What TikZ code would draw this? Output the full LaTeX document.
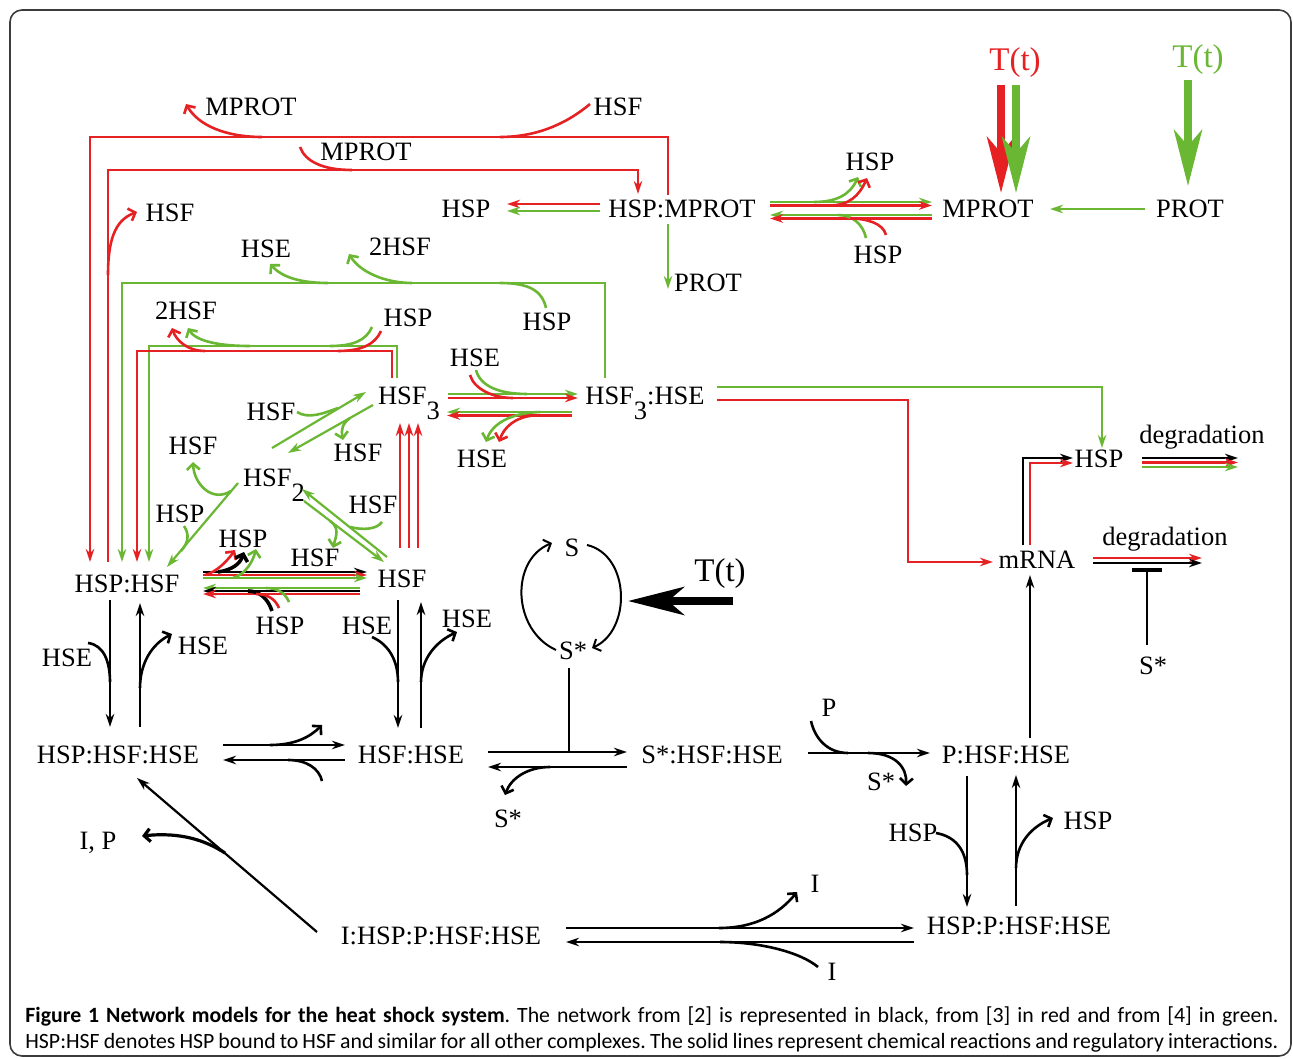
\documentclass[tikz,border=0pt]{standalone}
\usepackage{fontspec}
\setmainfont{Liberation Serif}
\newfontfamily\capfont{Carlito}
\usetikzlibrary{arrows.meta,calc}
\definecolor{hsred}{RGB}{229,33,36}
\definecolor{hsgreen}{RGB}{106,183,52}
\definecolor{hsframe}{RGB}{60,60,60}
\newcommand{\lowsub}[1]{\raisebox{-7.5pt}{#1}}

\begin{document}
\begin{tikzpicture}[x=0.5pt,y=-0.5pt,
    every node/.style={font=\fontsize{13.25}{15}\selectfont,inner sep=0pt,text height=9pt,text depth=0pt},
    capt/.style={font=\capfont\fontsize{10.9}{13}\selectfont\frenchspacing,anchor=base west},
    tlbl/.style={font=\fontsize{16.5}{18}\selectfont,text height=11pt},
    rxn/.style={line width=1.1pt,-{Stealth[length=6.5pt,width=4.2pt,inset=2pt]}},
    rxl/.style={line width=1pt},
    brn/.style={line width=1.3pt},
    bro/.style={line width=1.3pt,-{Straight Barb[length=3pt,width=6.5pt]}},
    heat/.style={line width=4pt,-{Stealth[length=28pt,width=14pt,inset=8pt]}}]
    \useasboundingbox (0,0) rectangle (1293,1058);
    \draw[hsframe,line width=0.8pt,rounded corners=6pt] (10,10) rectangle (1291,1056);
    % MPROT part
    \node (mprotA) at (251,107) {MPROT};
    \node (hsfA) at (618,107) {HSF};
    \node (mprotB) at (366,152) {MPROT};
    \node (hsfB) at (170,213) {HSF};
    \node (hspA) at (466,209) {HSP};
    \node (hspmprot) at (682,209) {HSP:MPROT};
    \node (protA) at (708,283) {PROT};
    \node (hspB) at (870,162) {HSP};
    \node (hspC) at (878,255) {HSP};
    \node (mprot) at (988,209) {MPROT};
    \node (prot) at (1190,209) {PROT};
    \node[tlbl,text=hsred] (tr) at (1015,60) {T(t)};
    \node[tlbl,text=hsgreen] (tg) at (1198,57) {T(t)};
    % HSF part
    \node (hseA) at (266,249) {HSE};
    \node (hsf2A) at (400,247) {2HSF};
    \node (hspD) at (547,322) {HSP};
    \node (hsf2B) at (186,311) {2HSF};
    \node (hspE) at (408,318) {HSP};
    \node (hseB) at (475,358) {HSE};
    \node (hsf3) at (409,395) {HSF\lowsub{3}};
    \node (hsf3hse) at (645,395) {HSF\lowsub{3}:HSE};
    \node (hseC) at (482,458) {HSE};
    \node (hsfC) at (271,411) {HSF};
    \node (hsfD) at (358,452) {HSF};
    \node (hsfE) at (193,445) {HSF};
    \node (hsf2) at (274,477) {HSF\lowsub{2}};
    \node (hspF) at (180,513) {HSP};
    \node (hsfF) at (373,504) {HSF};
    \node (hsfG) at (315,557) {HSF};
    \node (hspG) at (243,538) {HSP};
    \node (hsphsf) at (127,583) {HSP:HSF};
    \node (hsf) at (402,578) {HSF};
    \node (hspH) at (280,625) {HSP};
    \node (hseD) at (67,657) {HSE};
    \node (hseE) at (203,645) {HSE};
    \node (hseF) at (367,625) {HSE};
    \node (hseG) at (467,618) {HSE};
    % HSE complexes
    \node (hsphsfhse) at (118,754) {HSP:HSF:HSE};
    \node (hsfhse) at (411,754) {HSF:HSE};
    \node (sA) at (572,547) {S};
    \node (sstarA) at (573,650) {S*};
    \node[tlbl] (tb) at (720,570) {T(t)};
    \node (sstarB) at (508,818) {S*};
    \node (sshsfhse) at (712,754) {S*:HSF:HSE};
    \node (pA) at (829,707) {P};
    \node (sstarC) at (881,781) {S*};
    \node (phsfhse) at (1006,754) {P:HSF:HSE};
    \node (mrna) at (1037,559) {mRNA};
    \node (hsp) at (1099,458) {HSP};
    \node (degA) at (1202,434) {degradation};
    \node (degB) at (1165,536) {degradation};
    \node (sstarD) at (1153,665) {S*};
    \node (hspI) at (913,832) {HSP};
    \node (hspJ) at (1088,820) {HSP};
    \node (hspphsfhse) at (1019,925) {HSP:P:HSF:HSE};
    \node (ihsp) at (441,935) {I:HSP:P:HSF:HSE};
    \node (iA) at (815,883) {I};
    \node (iB) at (832,971) {I};
    \node (ip) at (98,840) {I, P};
    % caption
    \node[capt] (cap1) at (25,1022) {\makebox[626.5pt][s]{\textbf{Figure 1 Network models for the heat shock system}. The network from [2] is represented in black, from [3] in red and from [4] in green.}};
    \node[capt] (cap2) at (25,1048) {\makebox[626.5pt][s]{HSP:HSF denotes HSP bound to HSF and similar for all other complexes. The solid lines represent chemical reactions and regulatory interactions.}};
    % red MPROT loops
    \coordinate (redA) at (90,137);
    \draw[rxn,hsred] ($(hspmprot)+(-14,-14)$) |- (redA) -- ($(hsphsf)+(-37,-21)$);
    \draw[brn,hsred] ($(hsfA)+(-28,-3)$) .. controls +(-25,21) and +(35,0) .. ($(redA)+(410,0)$);
    \draw[bro,hsred] ($(redA)+(172,0)$) .. controls +(-37,0) and +(12,21) .. ($(mprotA)+(-65,-3)$);
    \draw[rxn,hsred] ($(hsphsf)+(-19,-21)$) |- ($(hspmprot)+(-44,-39)$) -- ($(hspmprot)+(-44,-15)$);
    \draw[brn,hsred] ($(mprotB)+(-66,-5)$) .. controls +(5,14) and +(-30,0) .. ($(mprotB)+(-14,18)$);
    \draw[bro,hsred] ($(hsfB)+(-62,62)$) .. controls +(0,-35) and +(-22,8) .. ($(hsfB)+(-33,-1)$);
    % HSP:MPROT reactions
    \foreach \c/\dy in {hsred/-5,hsgreen/2}{\draw[rxn,\c] ($(hspmprot)+(-82,\dy)$) -- ($(hspA)+(41,\dy)$);}
    \draw[rxn,hsgreen] ($(hspmprot)+(-14,15)$) -- ($(protA)+(-40,6)$);
    \foreach \c/\dy in {hsgreen/-7,hsred/-3.5}{\draw[rxn,\c] ($(hspmprot)+(88,\dy)$) -- ($(mprot)+(-56,\dy)$);}
    \foreach \c/\dy in {hsgreen/6,hsred/9.5}{\draw[rxn,\c] ($(mprot)+(-56,\dy)$) -- ($(hspmprot)+(88,\dy)$);}
    \draw[bro,hsgreen] ($(hspmprot)+(132,-7)$) .. controls +(22,0) and +(-8,18) .. ($(hspB)+(-12,15)$);
    \draw[bro,hsred] ($(hspmprot)+(147,-3.5)$) .. controls +(20,0) and +(-8,18) .. ($(hspB)+(-3,16)$);
    \draw[brn,hsgreen] ($(hspC)+(-12,-17)$) .. controls +(-3,-14) and +(14,0) .. ($(hspmprot)+(156,6)$);
    \draw[brn,hsred] ($(hspC)+(8,-20)$) .. controls +(-3,-12) and +(16,0) .. ($(hspmprot)+(168,9.5)$);
    \draw[rxn,hsgreen] ($(prot)+(-45,0)$) -- ($(mprot)+(62,0)$);
    % temperature
    \draw[heat,hsred] ($(tr)+(-14,25)$) -- ($(mprot)+(13,-16)$);
    \draw[heat,hsgreen] ($(tr)+(1,25)$) -- ($(mprot)+(28,-16)$);
    \draw[heat,hsgreen] ($(tg)+(-10,23)$) -- ($(prot)+(-2,-23)$);
    % green and red loops back to HSP:HSF
    \draw[rxn,hsgreen] ($(hsf3hse)+(-40,-17)$) |- ($(hsphsf)+(-5,-300)$) -- ($(hsphsf)+(-5,-21)$);
    \draw[brn,hsgreen] ($(hspD)+(-1,-14)$) .. controls +(-4,-18) and +(28,0) .. ($(hspD)+(-47,-39)$);
    \draw[bro,hsgreen] ($(hsf2A)+(12,36)$) .. controls +(-27,0) and +(11,18) .. ($(hsf2A)+(-51,7)$);
    \draw[bro,hsgreen] ($(hseA)+(62,34)$) .. controls +(-28,0) and +(12,13) .. ($(hseA)+(4,15)$);
    \draw[rxn,hsgreen] ($(hsf3)+(-12,-17)$) |- ($(hsphsf)+(22,-237)$) -- ($(hsphsf)+(22,-21)$);
    \draw[rxn,hsred] ($(hsf3)+(-17,-17)$) |- ($(hsphsf)+(10,-232)$) -- ($(hsphsf)+(10,-21)$);
    \draw[brn,hsgreen] ($(hspE)+(-36,9)$) .. controls +(-6,14) and +(22,0) .. ($(hspE)+(-78,28)$);
    \draw[brn,hsred] ($(hspE)+(-27,13)$) .. controls +(-6,14) and +(22,0) .. ($(hspE)+(-70,33)$);
    \draw[bro,hsred] ($(hsf2B)+(19,40)$) .. controls +(-18,0) and +(4,12) .. ($(hsf2B)+(-14,17)$);
    \draw[bro,hsgreen] ($(hsf2B)+(64,35)$) .. controls +(-35,0) and +(7,12) .. ($(hsf2B)+(2,17)$);
    % HSF3 binding HSE
    \foreach \c/\dy in {hsgreen/-1,hsred/3}{\draw[rxn,\c] ($(hsf3)+(39,\dy)$) -- ($(hsf3hse)+(-67,\dy)$);}
    \foreach \c/\dy in {hsgreen/17,hsred/20.5}{\draw[rxn,\c] ($(hsf3hse)+(-73,\dy)$) -- ($(hsf3)+(38,\dy)$);}
    \draw[brn,hsgreen] ($(hseB)+(1,12)$) .. controls +(4,16) and +(-28,0) .. ($(hsf3)+(118,-1)$);
    \draw[brn,hsred] ($(hseB)+(-5,17)$) .. controls +(4,14) and +(-20,0) .. ($(hsf3)+(104,3)$);
    \draw[bro,hsgreen] ($(hsf3)+(131,17)$) .. controls +(-30,1) and +(6,-18) .. ($(hseC)+(4,-16)$);
    \draw[bro,hsred] ($(hsf3)+(124,20.5)$) .. controls +(-18,2) and +(5,-15) .. ($(hseC)+(17,-16)$);
    % transcription
    \draw[rxn,hsgreen] ($(hsf3hse)+(72,-8)$) -| ($(hsp)+(3,-10)$);
    \draw[rxn,hsred] ($(hsf3hse)+(72,5)$) -| ($(mrna)+(-129,3)$) -- ($(mrna)+(-44,3)$);
    \draw[rxn] ($(mrna)+(-14,-14)$) |- ($(hsp)+(-26,0)$);
    \draw[rxn,hsred] ($(mrna)+(-7,-14)$) |- ($(hsp)+(-26,5)$);
    \foreach \c/\dy in {black/0,hsred/4.5,hsgreen/9}{\draw[rxn,\c] ($(hsp)+(43,\dy)$) -- ($(hsp)+(139,\dy)$);}
    \foreach \c/\dy in {hsred/-1,black/4}{\draw[rxn,\c] ($(mrna)+(56,\dy)$) -- ($(mrna)+(165,\dy)$);}
    \draw[line width=1pt,-{Bar[width=15pt,line width=2pt]}] ($(sstarD)+(-6,-20)$) -- ($(mrna)+(110,9)$);
    \draw[rxn] ($(phsfhse)+(24,-16)$) -- ($(mrna)+(-7,16)$);
    % HSF, HSF2, HSF3
    \draw[rxn,hsgreen] ($(hsf2)+(-2,-29)$) -- ($(hsf3)+(-43,-3)$);
    \draw[brn,hsgreen] ($(hsfC)+(26,1)$) .. controls +(11,7) and +(-16,6) .. ($(hsfC)+(67,-3)$);
    \draw[rxn,hsgreen] ($(hsf3)+(-36,10)$) -- ($(hsf2)+(14,-24)$);
    \draw[bro,hsgreen] ($(hsfD)+(-8,-34)$) .. controls +(-8,6) and +(-2,-10) .. ($(hsfD)+(-15,-12)$);
    \draw[rxn,hsgreen] ($(hsf2)+(-36,6)$) -- ($(hsphsf)+(40,-16)$);
    \draw[brn,hsgreen] ($(hspF)+(4,13)$) .. controls +(6,9) and +(7,-8) .. ($(hspF)+(1,38)$);
    \draw[bro,hsgreen] ($(hsf2)+(-43,14)$) .. controls +(-19,12) and +(1,22) .. ($(hsfE)+(0,17)$);
    \draw[rxn,hsgreen] ($(hsf)+(-15,-21)$) -- ($(hsf2)+(28,12)$);
    \draw[brn,hsgreen] ($(hsfF)+(9,18)$) .. controls +(-6,8) and +(12,3) .. ($(hsfF)+(-23,23)$);
    \draw[rxn,hsgreen] ($(hsf2)+(30,24)$) -- ($(hsf)+(-18,-16)$);
    \draw[bro,hsgreen] ($(hsfG)+(15,-36)$) .. controls +(10,7) and +(3,-12) .. ($(hsfG)+(18,-9)$);
    \foreach \dx in {-9,0,9}{\draw[rxn,hsred] ($(hsf)+(7+\dx,-30)$) -- ($(hsf3)+(\dx,28)$);}
    % HSP:HSF <-> HSF
    \foreach \c/\dy in {black/-11,hsred/-8,hsgreen/-5}{\draw[rxn,\c] ($(hsphsf)+(76,\dy)$) -- ($(hsf)+(-35,\dy+5)$);}
    \foreach \c/\dy in {hsgreen/5,black/8,hsred/11}{\draw[rxn,\c] ($(hsf)+(-42,\dy+5)$) -- ($(hsphsf)+(76,\dy)$);}
    \draw[bro,hsred] ($(hsphsf)+(78,-8)$) .. controls +(12,-3) and +(-7,10) .. ($(hspG)+(-8,12)$);
    \draw[bro,line width=1.8pt] ($(hsphsf)+(91,-11)$) .. controls +(14,-2) and +(-4,12) .. ($(hspG)+(1,14)$);
    \draw[bro,hsgreen] ($(hsphsf)+(106,-5)$) .. controls +(13,-4) and +(-3,12) .. ($(hspG)+(13,11)$);
    \draw[brn,line width=1.8pt] ($(hspH)+(-8,-14)$) .. controls +(-4,-12) and +(12,0) .. ($(hsphsf)+(121,8)$);
    \draw[brn,hsred] ($(hspH)+(-1,-17)$) .. controls +(-4,-10) and +(10,0) .. ($(hsphsf)+(129,11)$);
    \draw[brn,hsgreen] ($(hspH)+(9,-23)$) .. controls +(-4,-10) and +(10,0) .. ($(hsphsf)+(139,5)$);
    % HSE binding
    \draw[rxn] ($(hsphsf)+(-17,17)$) -- ($(hsphsfhse)+(-8,-27)$);
    \draw[brn] ($(hseD)+(21,-14)$) .. controls +(16,2) and +(0,-20) .. ($(hsphsfhse)+(-8,-72)$);
    \draw[rxn] ($(hsphsfhse)+(22,-27)$) -- ($(hsphsf)+(13,20)$);
    \draw[bro] ($(hsphsfhse)+(22,-66)$) .. controls +(0,-25) and +(-20,10) .. ($(hseE)+(-31,-11)$);
    \draw[rxn] ($(hsf)+(-4,22)$) -- ($(hsfhse)+(-13,-26)$);
    \draw[brn] ($(hseF)+(5,12)$) .. controls +(18,8) and +(0,-20) .. ($(hsfhse)+(-13,-72)$);
    \draw[rxn] ($(hsfhse)+(10,-26)$) -- ($(hsf)+(19,24)$);
    \draw[bro] ($(hsfhse)+(10,-72)$) .. controls +(0,-22) and +(-22,10) .. ($(hseG)+(-10,14)$);
    % black network
    \draw[rxn] ($(hsphsfhse)+(105,-9)$) -- ($(hsfhse)+(-66,-9)$);
    \draw[bro] ($(hsphsfhse)+(152,-9)$) .. controls +(25,0) and +(-12,12) .. ($(hsfhse)+(-89,-29)$);
    \draw[rxn] ($(hsfhse)+(-66,6)$) -- ($(hsphsfhse)+(105,6)$);
    \draw[brn] ($(hsfhse)+(-89,27)$) .. controls +(-3,-13) and +(18,0) .. ($(hsphsfhse)+(170,6)$);
    \draw[rxn] ($(hsfhse)+(77,-2)$) -- ($(sshsfhse)+(-85,-2)$);
    \draw[rxn] ($(sshsfhse)+(-85,13)$) -- ($(hsfhse)+(77,13)$);
    \draw[bro] ($(sshsfhse)+(-162,13)$) .. controls +(-22,0) and +(6,-17) .. ($(sstarB)+(-3,-23)$);
    \draw[rxl] ($(sstarA)+(-4,18)$) -- ($(sshsfhse)+(-143,-2)$);
    \draw[bro,line width=1pt] ($(sA)+(15,-2)$) .. controls +(43,10) and +(40,-18) .. ($(sstarA)+(19,-2)$);
    \draw[bro,line width=1pt] ($(sstarA)+(-17,0)$) .. controls +(-44,-20) and +(-42,17) .. ($(sA)+(-20,-4)$);
    \draw[heat] ($(tb)+(13,31)$) -- ($(sA)+(56,54)$);
    \draw[rxn] ($(sshsfhse)+(96,-1)$) -- ($(phsfhse)+(-76,-1)$);
    \draw[brn] ($(pA)+(-18,14)$) .. controls +(4,18) and +(-20,0) .. ($(phsfhse)+(-158,-1)$);
    \draw[bro] ($(phsfhse)+(-138,-1)$) .. controls +(28,0) and +(1,-18) .. ($(sstarC)+(25,5)$);
    \draw[rxn] ($(phsfhse)+(-39,22)$) -- ($(hspphsfhse)+(-52,-18)$);
    \draw[brn] ($(hspI)+(23,1)$) .. controls +(22,4) and +(0,-22) .. ($(hspphsfhse)+(-52,-50)$);
    \draw[rxn] ($(hspphsfhse)+(-3,-19)$) -- ($(phsfhse)+(10,21)$);
    \draw[bro] ($(hspphsfhse)+(-3,-57)$) .. controls +(0,-24) and +(-22,9) .. ($(hspJ)+(-35,-2)$);
    \draw[rxn] ($(ihsp)+(125,-7)$) -- ($(hspphsfhse)+(-105,3)$);
    \draw[bro] ($(ihsp)+(278,-7)$) .. controls +(36,0) and +(-18,22) .. ($(iA)+(-18,9)$);
    \draw[rxn] ($(hspphsfhse)+(-105,17)$) -- ($(ihsp)+(125,7)$);
    \draw[brn] ($(iB)+(-14,-4)$) .. controls +(-18,-15) and +(40,0) .. ($(ihsp)+(279,7)$);
    \draw[rxn] ($(ihsp)+(-124,-3)$) -- ($(hsphsfhse)+(19,24)$);
    \draw[bro,line width=1.6pt] ($(ihsp)+(-216,-82)$) .. controls +(-20,-13) and +(38,-4) .. ($(ip)+(44,-4)$);
\end{tikzpicture}
\end{document}
